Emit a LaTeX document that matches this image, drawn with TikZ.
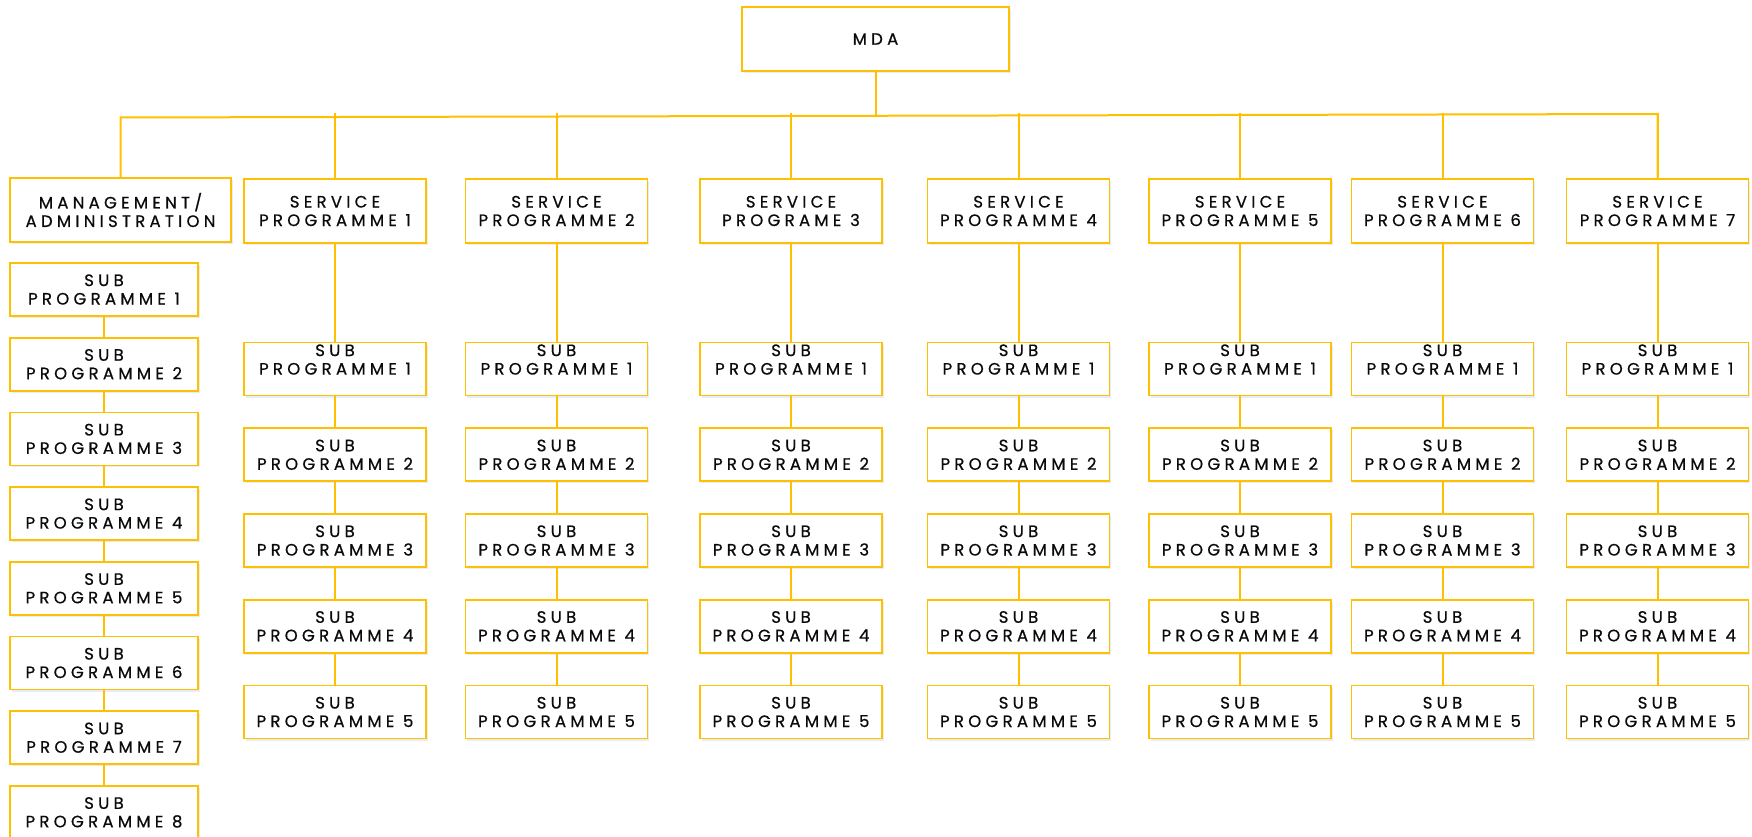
\documentclass[tikz,border=0pt]{standalone}
\usepackage{fontspec}
\setmainfont{Poppins}[LetterSpace=26, FakeBold=0.6]
\usetikzlibrary{shadows}
\definecolor{gold}{RGB}{255,192,0}
\definecolor{ink}{RGB}{10,10,12}
\definecolor{haze}{RGB}{200,215,240}
\begin{document}
\begin{tikzpicture}[x=1pt,y=-1pt,
  box/.style={draw=gold, line width=1.8pt, fill=white, align=center,
    text=ink, inner sep=0pt, font=\fontsize{16.5}{18.5}\selectfont,
    drop shadow={shadow xshift=1.5pt, shadow yshift=-2pt, fill=haze, opacity=0.45}},
  topbox/.style={box, minimum height=64pt},
  subbox/.style={box, minimum width=182pt, minimum height=53pt},
  mgsub/.style={box, minimum width=188pt, minimum height=53pt},
  raised/.style={text depth=19pt},
  link/.style={draw=gold, line width=2pt}]
\useasboundingbox (0,0) rectangle (1752,837);

% head office
\node[topbox, minimum width=267pt] (mda) at (875.5,39) {MDA};

% management column
\node[topbox, minimum width=221pt] (mg) at (120.5,210) {MANAGEMENT/\\ADMINISTRATION};
\foreach \j in {1,...,8}
  \node[mgsub] (mg-\j) at (104,{289.5+74.7*(\j-1)}) {SUB\\PROGRAMME \j};
\foreach \j [count=\k from 2] in {1,...,7}
  \draw[link] (mg-\j) -- (mg-\k);

% service programme columns
\foreach \i/\x/\t in {1/335/{SERVICE\\PROGRAMME 1},
                      2/556.5/{SERVICE\\PROGRAMME 2},
                      3/791/{SERVICE\\PROGRAME 3},
                      4/1018.5/{SERVICE\\PROGRAMME 4},
                      5/1240/{SERVICE\\PROGRAMME 5},
                      6/1442.5/{SERVICE\\PROGRAMME 6},
                      7/1657.5/{SERVICE\\PROGRAMME 7}} {
  \node[topbox, minimum width=182pt] (s\i) at (\x,211) {\t};
  \node[subbox, raised] (s\i-1) at (\x,369) {SUB\\PROGRAMME 1};
  \foreach \j in {2,...,5}
    \node[subbox] (s\i-\j) at (\x,{369+85.75*(\j-1)}) {SUB\\PROGRAMME \j};
  \draw[link] (s\i) -- (s\i-1);
  \foreach \j [count=\k from 2] in {1,...,4}
    \draw[link] (s\i-\j) -- (s\i-\k);
  \coordinate (t\i) at (\x,113);
  \draw[link] (t\i) -- (s\i);
}

% distribution bus
\coordinate (busL) at (120.5,117.5);
\coordinate (busR) at (1657.5,114);
\coordinate (busM) at (875.5,115.8);
\draw[link] (mg.north) -- (busL) -- (busR) -- (s7.north);
\draw[link] (mda) -- (busM);
\end{tikzpicture}
\end{document}
